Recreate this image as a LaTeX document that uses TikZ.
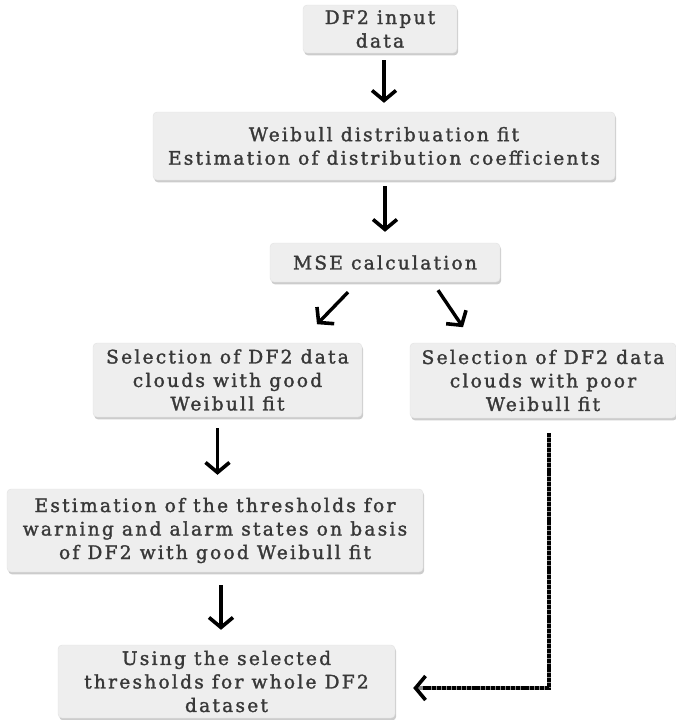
\documentclass[tikz,border=0pt]{standalone}
\usepackage{fontspec}
\setmainfont{DejaVu Serif}[LetterSpace=12, FakeBold=1.6]
\usetikzlibrary{arrows.meta,shadows}
\definecolor{boxfill}{HTML}{EEEEEE}
\definecolor{boxline}{HTML}{E2E2E2}
\definecolor{ink}{HTML}{383838}
\tikzset{
  stepbox/.style={rounded corners=4pt, fill=boxfill, draw=boxline, line width=0.4pt,
    drop shadow={shadow xshift=1.2pt, shadow yshift=-2.4pt, fill=black!40, opacity=.5},
    align=center, inner sep=0pt, text=ink,
    font=\fontsize{18.6}{23.5}\selectfont},
  flow/.style={line width=3.4pt, black, -{Straight Barb[length=10pt,width=24pt,line width=3.6pt]}},
  loopbase/.style={line width=3.4pt, black!45, -{Straight Barb[length=10pt,width=24pt,line width=3.6pt,color=black]}},
  loopdash/.style={line width=3.4pt, black, dash pattern=on 4pt off 0.9pt}
}
\begin{document}
\begin{tikzpicture}[x=1pt,y=-1pt]
\useasboundingbox (0,0) rectangle (675,720);

\node[stepbox, minimum width=154pt, minimum height=48pt] (b1) at (380,29) {DF2 input\\data};
\node[stepbox, minimum width=462pt, minimum height=68pt] (b2) at (384,146)
  {Weibull distribuation fit\\Estimation of distribution coefficients};
\node[stepbox, minimum width=230pt, minimum height=39pt] (b3) at (385,262.5) {MSE calculation};
\node[stepbox, minimum width=269pt, minimum height=74pt] (b4) at (227.5,380)
  {Selection of DF2 data\\clouds with good\\Weibull fit};
\node[stepbox, minimum width=266pt, minimum height=75pt] (b5) at (543,380.5)
  {Selection of DF2 data\\clouds with poor\\Weibull fit};
\node[stepbox, minimum width=416pt, minimum height=83pt] (b6) at (215,530.5)
  {Estimation of the thresholds for\\warning and alarm states on basis\\of DF2 with good Weibull fit};
\node[stepbox, minimum width=337pt, minimum height=73pt] (b7) at (226.5,681.5)
  {Using the selected\\thresholds for whole DF2\\dataset};

% straight flow arrows
\draw[flow, shorten <=7pt, shorten >=9pt] (b1.south -| b2.north) -- (b2.north);
\draw[flow, shorten <=6pt, shorten >=11pt] (b2.south -| b3.north) -- (b3.north);
\draw[flow] (b3.south) ++(-37,10) -- ++(-31,32);
\draw[flow] (b3.south) ++(53,8) -- ++(25,37);
\draw[flow, shorten <=11pt, shorten >=14pt] ([xshift=-10pt]b4.south) -- ([xshift=-10pt]b4.south |- b6.north);
\draw[flow, shorten <=13pt, shorten >=15pt] ([xshift=6pt]b6.south) -- ([xshift=6pt]b6.south |- b7.north);

% return path from the poor-fit branch
\coordinate (loopstart) at ([xshift=6pt,yshift=-15pt]b5.south);
\coordinate (loopend) at ([yshift=-6.5pt]b7.east);
\draw[loopbase, shorten >=18pt] (loopstart) |- (loopend);
\draw[loopdash, shorten >=28pt] (loopstart) |- (loopend);
\end{tikzpicture}
\end{document}
